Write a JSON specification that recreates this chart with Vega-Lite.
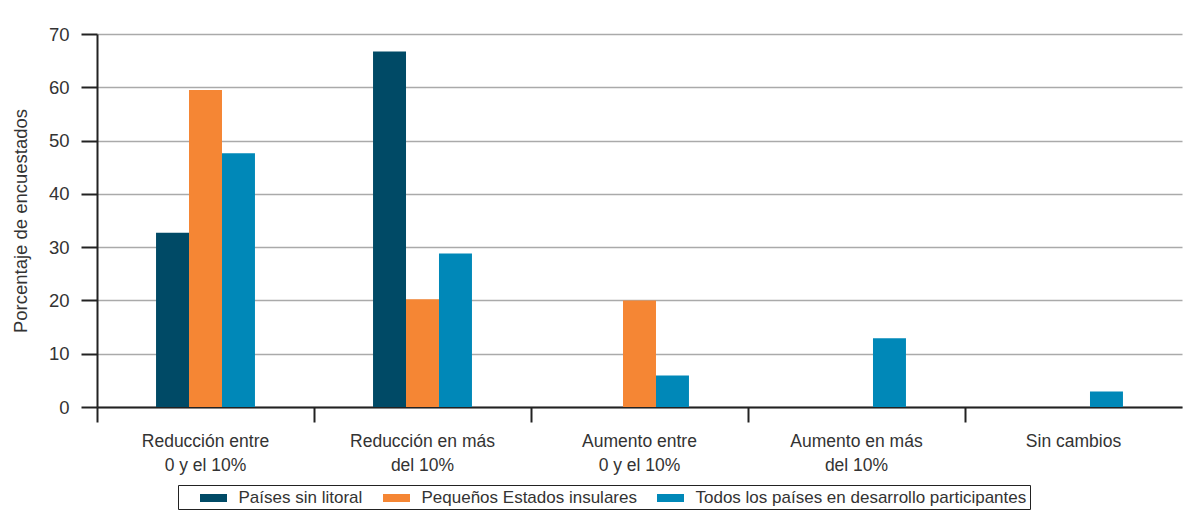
{
  "$schema": "https://vega.github.io/schema/vega-lite/v6.json",
  "width": 1085,
  "height": 373,
  "autosize": "none",
  "padding": {"left": 97, "top": 34, "right": 2, "bottom": 104},
  "background": "white",
  "config": {
    "view": {"stroke": null},
    "font": "Liberation Sans",
    "axis": {"labelFont": "Liberation Sans", "titleFont": "Liberation Sans", "labelColor": "#333", "titleColor": "#333"}
  },
  "data": {
    "values": [
      {"cat": "Reducción entre 0 y el 10%", "serie": "Países sin litoral", "val": 32.7},
      {"cat": "Reducción entre 0 y el 10%", "serie": "Pequeños Estados insulares", "val": 59.5},
      {"cat": "Reducción entre 0 y el 10%", "serie": "Todos los países en desarrollo participantes", "val": 47.6},
      {"cat": "Reducción en más del 10%", "serie": "Países sin litoral", "val": 66.7},
      {"cat": "Reducción en más del 10%", "serie": "Pequeños Estados insulares", "val": 20.2},
      {"cat": "Reducción en más del 10%", "serie": "Todos los países en desarrollo participantes", "val": 28.8},
      {"cat": "Aumento entre 0 y el 10%", "serie": "Países sin litoral", "val": 0},
      {"cat": "Aumento entre 0 y el 10%", "serie": "Pequeños Estados insulares", "val": 20.0},
      {"cat": "Aumento entre 0 y el 10%", "serie": "Todos los países en desarrollo participantes", "val": 5.9},
      {"cat": "Aumento en más del 10%", "serie": "Países sin litoral", "val": 0},
      {"cat": "Aumento en más del 10%", "serie": "Pequeños Estados insulares", "val": 0},
      {"cat": "Aumento en más del 10%", "serie": "Todos los países en desarrollo participantes", "val": 12.9},
      {"cat": "Sin cambios", "serie": "Países sin litoral", "val": 0},
      {"cat": "Sin cambios", "serie": "Pequeños Estados insulares", "val": 0},
      {"cat": "Sin cambios", "serie": "Todos los países en desarrollo participantes", "val": 2.9}
    ]
  },
  "mark": {"type": "bar"},
  "encoding": {
    "x": {
      "field": "cat",
      "type": "nominal",
      "sort": ["Reducción entre 0 y el 10%", "Reducción en más del 10%", "Aumento entre 0 y el 10%", "Aumento en más del 10%", "Sin cambios"],
      "scale": {"paddingInner": 0, "paddingOuter": 0},
      "axis": {
        "title": null,
        "labelAngle": 0,
        "bandPosition": 0,
        "labelExpr": "datum.value == 'Reducción entre 0 y el 10%' ? ['Reducción entre', '0 y el 10%'] : datum.value == 'Reducción en más del 10%' ? ['Reducción en más', 'del 10%'] : datum.value == 'Aumento entre 0 y el 10%' ? ['Aumento entre', '0 y el 10%'] : datum.value == 'Aumento en más del 10%' ? ['Aumento en más', 'del 10%'] : datum.value",
        "labelFontSize": 17.5,
        "labelLineHeight": 24,
        "labelPadding": 10,
        "labelBaseline": "top",
        "domainColor": "#222",
        "domainWidth": 2,
        "tickColor": "#222",
        "tickWidth": 2,
        "tickSize": 15,
        "grid": false
      }
    },
    "xOffset": {
      "field": "serie",
      "type": "nominal",
      "scale": {"domain": ["_a", "Países sin litoral", "Pequeños Estados insulares", "Todos los países en desarrollo participantes", "_b"], "paddingInner": 0, "paddingOuter": 0.79}
    },
    "y": {
      "field": "val",
      "type": "quantitative",
      "scale": {"domain": [0, 70], "nice": false},
      "axis": {
        "title": "Porcentaje de encuestados",
        "titleFontSize": 18.5,
        "titleFontWeight": "normal",
        "titlePadding": 18,
        "values": [0, 10, 20, 30, 40, 50, 60, 70],
        "labelFontSize": 18.5,
        "labelPadding": 12,
        "domainColor": "#222",
        "domainWidth": 2,
        "tickColor": "#222",
        "tickWidth": 2,
        "tickSize": 16,
        "grid": true,
        "gridColor": "#aaa",
        "gridWidth": 1.5
      }
    },
    "color": {
      "field": "serie",
      "type": "nominal",
      "sort": ["Países sin litoral", "Pequeños Estados insulares", "Todos los países en desarrollo participantes"],
      "scale": {"range": ["#004a66", "#f58634", "#0088b8"]},
      "legend": {
        "title": null,
        "orient": "none",
        "direction": "horizontal",
        "legendX": 81,
        "legendY": 451,
        "strokeColor": "#222",
        "padding": 3,
        "symbolType": "M-1.35,-0.4H1.35V0.4H-1.35Z",
        "symbolSize": 400,
        "symbolOffset": 22.5,
        "symbolStrokeWidth": 0,
        "symbolOpacity": 1,
        "labelFontSize": 17,
        "labelColor": "#333",
        "labelOffset": 15,
        "columnPadding": 1,
        "labelLimit": 400
      }
    }
  }
}
